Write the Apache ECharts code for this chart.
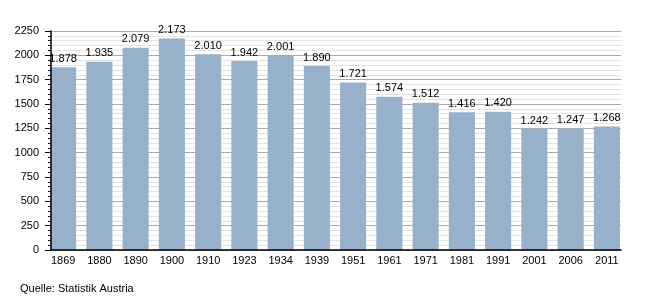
<!DOCTYPE html>
<html>
<head>
<meta charset="utf-8">
<script src="https://cdn.jsdelivr.net/npm/echarts@6/dist/echarts.min.js"></script>
<style>html,body{margin:0;padding:0;background:#fff}#c{width:650px;height:300px}</style>
</head>
<body>
<div id="c"></div>
<script>
const categories = ['1869','1880','1890','1900','1910','1923','1934','1939','1951','1961','1971','1981','1991','2001','2006','2011'];
const population = [1878,1935,2079,2173,2010,1942,2001,1890,1721,1574,1512,1416,1420,1242,1247,1268];
const yTicks = [0,250,500,750,1000,1250,1500,1750,2000,2250];
const sourceText = 'Quelle: Statistik Austria';

const fmt = v => { const s = String(v); return s.length > 3 ? s.slice(0, s.length-3) + '.' + s.slice(-3) : s; };
const font = 'Liberation Sans, Arial, sans-serif';
const yMin = yTicks[0], yMax = yTicks[yTicks.length-1];
const chart = echarts.init(document.getElementById('c'), null, {renderer:'canvas'});
chart.setOption({
  animation: false,
  backgroundColor: '#fff',
  grid: [
    {left: 51, right: 29, top: 31, bottom: 50},
    {left: 45, right: 25, top: 31, bottom: 50}
  ],
  xAxis: [
    {type:'category', gridIndex:0, data: categories, z: 5,
     axisLine:{show:true, lineStyle:{color:'#000', width:1.5}},
     axisTick:{show:false}, axisLabel:{show:false}, splitLine:{show:false}},
    {type:'category', gridIndex:1, data: categories,
     axisLine:{show:false}, axisTick:{show:false},
     axisLabel:{show:true, color:'#000', fontFamily: font, fontSize: 11, margin: 5}}
  ],
  yAxis: [
    {type:'value', gridIndex:0, position:'left', min: yMin, max: yMax, interval: 250,
     axisLine:{show:false}, axisTick:{show:false}, axisLabel:{show:false},
     splitLine:{show:true, lineStyle:{color:'#aaaaaa', width:1}},
     minorTick:{show:false, splitNumber:5},
     minorSplitLine:{show:true, lineStyle:{color:'#e2e2e2', width:1}}},
    {type:'value', gridIndex:1, min: yMin, max: yMax, interval: 250, show: false},
    {type:'value', gridIndex:0, position:'left', offset: 0, min: yMin, max: yMax, interval: 250, z: 5,
     axisLine:{show:true, lineStyle:{color:'#000', width:1.5}},
     axisTick:{show:true, length:6, lineStyle:{color:'#000'}},
     minorTick:{show:true, splitNumber:5, length:3, lineStyle:{color:'#000'}},
     splitLine:{show:false}, minorSplitLine:{show:false},
     axisLabel:{color:'#000', fontFamily: font, fontSize: 11, margin: 12, formatter: v => String(v)}}
  ],
  series: [{
    type:'bar', xAxisIndex:1, yAxisIndex:1, data: population,
    barCategoryGap: '28%', z: 3,
    itemStyle:{color:'#97b1ca'},
    label:{show:true, position:'top', distance:3, color:'#000', fontFamily: font, fontSize: 11,
      formatter: p => fmt(p.value)}
  }],
  graphic: [{type:'text', left: 20, top: 283, style:{text: sourceText, fill:'#000', font: '11px ' + font}}]
});
</script>
</body>
</html>
